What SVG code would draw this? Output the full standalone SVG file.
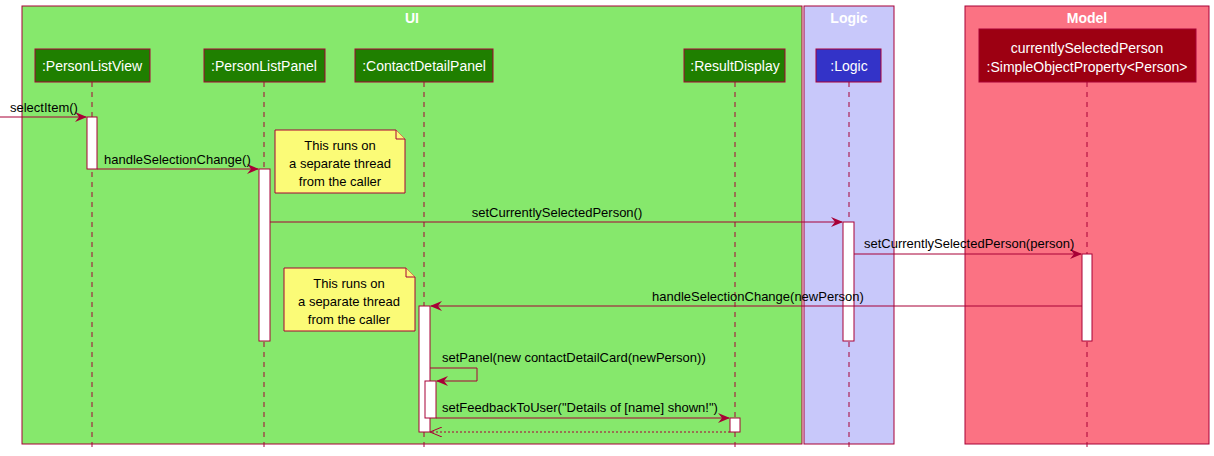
<svg xmlns="http://www.w3.org/2000/svg" width="1214" height="456" viewBox="0 0 1214 456">
<style>
text{font-family:"Liberation Sans",Arial,sans-serif;font-size:13px;fill:#000}
.box{stroke:#a80036;stroke-width:1}
.hd{fill:#fff;font-size:14px;text-anchor:middle}
.ttl{fill:#fff;font-weight:bold;font-size:14px;text-anchor:middle}
.ll{stroke:#a80036;stroke-dasharray:5,5;fill:none}
.act{fill:#fff;stroke:#a80036}
.msg{stroke:#a80036;fill:none}
.note{fill:#fbfb77;stroke:#a80036}
.nt{text-anchor:middle}
</style>
<defs><marker id="a" viewBox="0 0 12 10" refX="11" refY="5" markerWidth="12" markerHeight="10" orient="auto" markerUnits="userSpaceOnUse"><path d="M0,0 L12,5 L0,10 L4,5 Z" fill="#a80036"/></marker>
<marker id="o" viewBox="0 0 12 10" refX="11" refY="5" markerWidth="12" markerHeight="10" orient="auto" markerUnits="userSpaceOnUse"><path d="M0,0 L12,5 L0,10" fill="none" stroke="#a80036"/></marker></defs>
<g id="boxes">
<rect x="22" y="6" width="780" height="438" fill="#86e86c" class="box"/><text x="412" y="23" class="ttl">UI</text>
<rect x="804" y="6" width="90" height="438" fill="#c8c8fa" class="box"/><text x="849" y="23" class="ttl">Logic</text>
<rect x="965" y="6" width="244" height="438" fill="#fb7283" class="box"/><text x="1087" y="23" class="ttl">Model</text>
</g>
<g id="lifelines">
<line x1="92" y1="82" x2="92" y2="450" class="ll"/>
<line x1="264" y1="82" x2="264" y2="450" class="ll"/>
<line x1="424" y1="82" x2="424" y2="450" class="ll"/>
<line x1="735" y1="82" x2="735" y2="450" class="ll"/>
<line x1="849" y1="82" x2="849" y2="450" class="ll"/>
<line x1="1087" y1="82" x2="1087" y2="450" class="ll"/>
</g>
<g id="PersonListView"><rect x="35" y="49" width="115" height="33" fill="#1f7f00" class="box"/><text x="92" y="71" class="hd">:PersonListView</text></g>
<g id="PersonListPanel"><rect x="204" y="49" width="121" height="33" fill="#1f7f00" class="box"/><text x="264" y="71" class="hd">:PersonListPanel</text></g>
<g id="ContactDetailPanel"><rect x="355" y="49" width="138" height="33" fill="#1f7f00" class="box"/><text x="424" y="71" class="hd">:ContactDetailPanel</text></g>
<g id="ResultDisplay"><rect x="684" y="49" width="101" height="33" fill="#1f7f00" class="box"/><text x="735" y="71" class="hd">:ResultDisplay</text></g>
<g id="LogicNode"><rect x="816" y="49" width="65" height="33" fill="#3333c8" class="box"/><text x="849" y="71" class="hd">:Logic</text></g>
<g id="Property"><rect x="979" y="29" width="217" height="53" fill="#9d0012" class="box"/><text x="1087" y="53" class="hd">currentlySelectedPerson</text><text x="1087" y="72" class="hd">:SimpleObjectProperty&lt;Person&gt;</text></g>
<g id="activations">
<rect x="87" y="117" width="10" height="52" class="act"/>
<rect x="259" y="169" width="11" height="172" class="act"/>
<rect x="843" y="222" width="11" height="119" class="act"/>
<rect x="1082" y="254" width="10" height="87" class="act"/>
<rect x="419" y="306" width="11" height="126" class="act"/>
<rect x="425" y="381" width="11" height="37" class="act"/>
<rect x="730" y="418" width="10" height="14" class="act"/>
</g>
<g id="connectors">
<line x1="0" y1="117" x2="86" y2="117" class="msg" marker-end="url(#a)"/>
<line x1="97" y1="169" x2="258" y2="169" class="msg" marker-end="url(#a)"/>
<line x1="270" y1="222" x2="842" y2="222" class="msg" marker-end="url(#a)"/>
<line x1="854" y1="254" x2="1081" y2="254" class="msg" marker-end="url(#a)"/>
<line x1="1082" y1="306" x2="431" y2="306" class="msg" marker-end="url(#a)"/>
<polyline points="430,368 477,368 477,381 437,381" class="msg" marker-end="url(#a)"/>
<line x1="436" y1="418" x2="729" y2="418" class="msg" marker-end="url(#a)"/>
<line x1="730" y1="432" x2="431" y2="432" class="msg" stroke-dasharray="2,2" marker-end="url(#o)"/>
</g>
<g id="labels">
<text x="10" y="112">selectItem()</text>
<text x="104" y="164">handleSelectionChange()</text>
<text x="557" y="217" text-anchor="middle">setCurrentlySelectedPerson()</text>
<text x="864" y="248">setCurrentlySelectedPerson(person)</text>
<text x="652" y="301">handleSelectionChange(newPerson)</text>
<text x="442" y="362">setPanel(new contactDetailCard(newPerson))</text>
<text x="442" y="412">setFeedbackToUser("Details of [name] shown!")</text>
</g>
<g id="note1"><path d="M275,130 H396 L405,139 V193 H275 Z" class="note"/><path d="M396,130 V139 H405" class="note"/><text x="340" y="150" class="nt">This runs on</text><text x="340" y="168" class="nt">a separate thread</text><text x="340" y="186" class="nt">from the caller</text></g>
<g id="note2"><path d="M284,268 H406 L415,277 V331 H284 Z" class="note"/><path d="M406,268 V277 H415" class="note"/><text x="349" y="288" class="nt">This runs on</text><text x="349" y="306" class="nt">a separate thread</text><text x="349" y="324" class="nt">from the caller</text></g>
</svg>
